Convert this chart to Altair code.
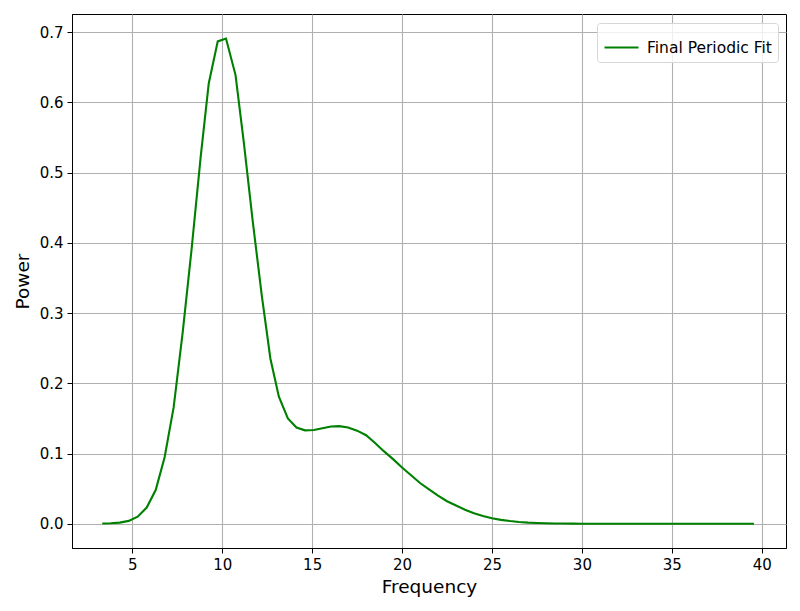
import altair as alt
import pandas as pd

series_name = "Final Periodic Fit"

frequency = [3.33, 3.8, 4.3, 4.8, 5.3, 5.8, 6.3, 6.8, 7.3, 7.8, 8.3, 8.8, 9.25, 9.75,
             10.21, 10.74, 11.2, 11.7, 12.2, 12.68, 13.15, 13.65, 14.13, 14.6, 15.1,
             15.57, 16.05, 16.5, 17.0, 17.5, 18.0, 18.5, 19.0, 19.5, 20.0, 20.5, 21.0,
             21.5, 22.0, 22.5, 23.0, 23.5, 24.0, 24.5, 25.0, 25.5, 26.0, 26.5, 27.0,
             27.5, 28.0, 28.5, 29.0, 29.5, 30.0, 31.0, 32.0, 33.0, 34.0, 35.0, 36.0,
             37.0, 38.0, 39.0, 39.57]

power = [0.0003, 0.0006, 0.0015, 0.004, 0.010, 0.023, 0.048, 0.095, 0.166, 0.272,
         0.392, 0.522, 0.627, 0.687, 0.691, 0.639, 0.543, 0.43, 0.325, 0.235, 0.181,
         0.150, 0.137, 0.133, 0.1335, 0.136, 0.1385, 0.139, 0.137, 0.1325, 0.126,
         0.115, 0.103, 0.092, 0.080, 0.069, 0.058, 0.049, 0.040, 0.032, 0.026, 0.020,
         0.015, 0.011, 0.0078, 0.0055, 0.0038, 0.0025, 0.0016, 0.001, 0.0006, 0.0003,
         0.0002, 0.0001, 0.0, 0.0, 0.0, 0.0, 0.0, 0.0, 0.0, 0.0, 0.0, 0.0, 0.0]

x_ticks = [5, 10, 15, 20, 25, 30, 35, 40]
y_ticks = [0.0, 0.1, 0.2, 0.3, 0.4, 0.5, 0.6, 0.7]

df = pd.DataFrame({"Frequency": frequency, "Power": power, "series": series_name})

font = "DejaVu Sans"

chart = alt.Chart(df).mark_line(strokeWidth=2.1).encode(
    x=alt.X("Frequency:Q",
            scale=alt.Scale(domain=[1.646, 41.35], nice=False, zero=False),
            axis=alt.Axis(values=x_ticks, title="Frequency", format="d")),
    y=alt.Y("Power:Q",
            scale=alt.Scale(domain=[-0.0346, 0.726], nice=False, zero=False),
            axis=alt.Axis(values=y_ticks, title="Power", format=".1f")),
    color=alt.Color("series:N",
                    scale=alt.Scale(domain=[series_name], range=["#008000"]),
                    legend=alt.Legend(title=None, orient="none", legendX=525, legendY=9,
                                      symbolType="stroke", symbolSize=1156,
                                      symbolStrokeWidth=2.1, labelFontSize=15.5,
                                      labelFont=font, labelColor="#000000",
                                      labelOffset=7, padding=6,
                                      strokeColor="#d6d6d6", fillColor="#ffffffcc",
                                      cornerRadius=3)),
).properties(
    width=714, height=534,
    autosize=alt.AutoSizeParams(type="none"),
    padding={"left": 64, "top": 6, "right": 6, "bottom": 55},
).configure_view(
    stroke="#000000", strokeWidth=1
).configure_axis(
    grid=True, gridColor="#b0b0b0", gridWidth=1.1,
    domainColor="#000000", domainWidth=1,
    tickColor="#000000", tickSize=5, tickWidth=1,
    labelFont=font, labelFontSize=15, labelColor="#000000", labelPadding=4,
    titleFont=font, titleFontSize=18.5, titleFontWeight="normal", titleColor="#000000",
).configure_axisX(
    titlePadding=5
).configure_axisY(
    titlePadding=7
)

chart.save("out.html", embed_options={"renderer": "svg", "actions": False})
